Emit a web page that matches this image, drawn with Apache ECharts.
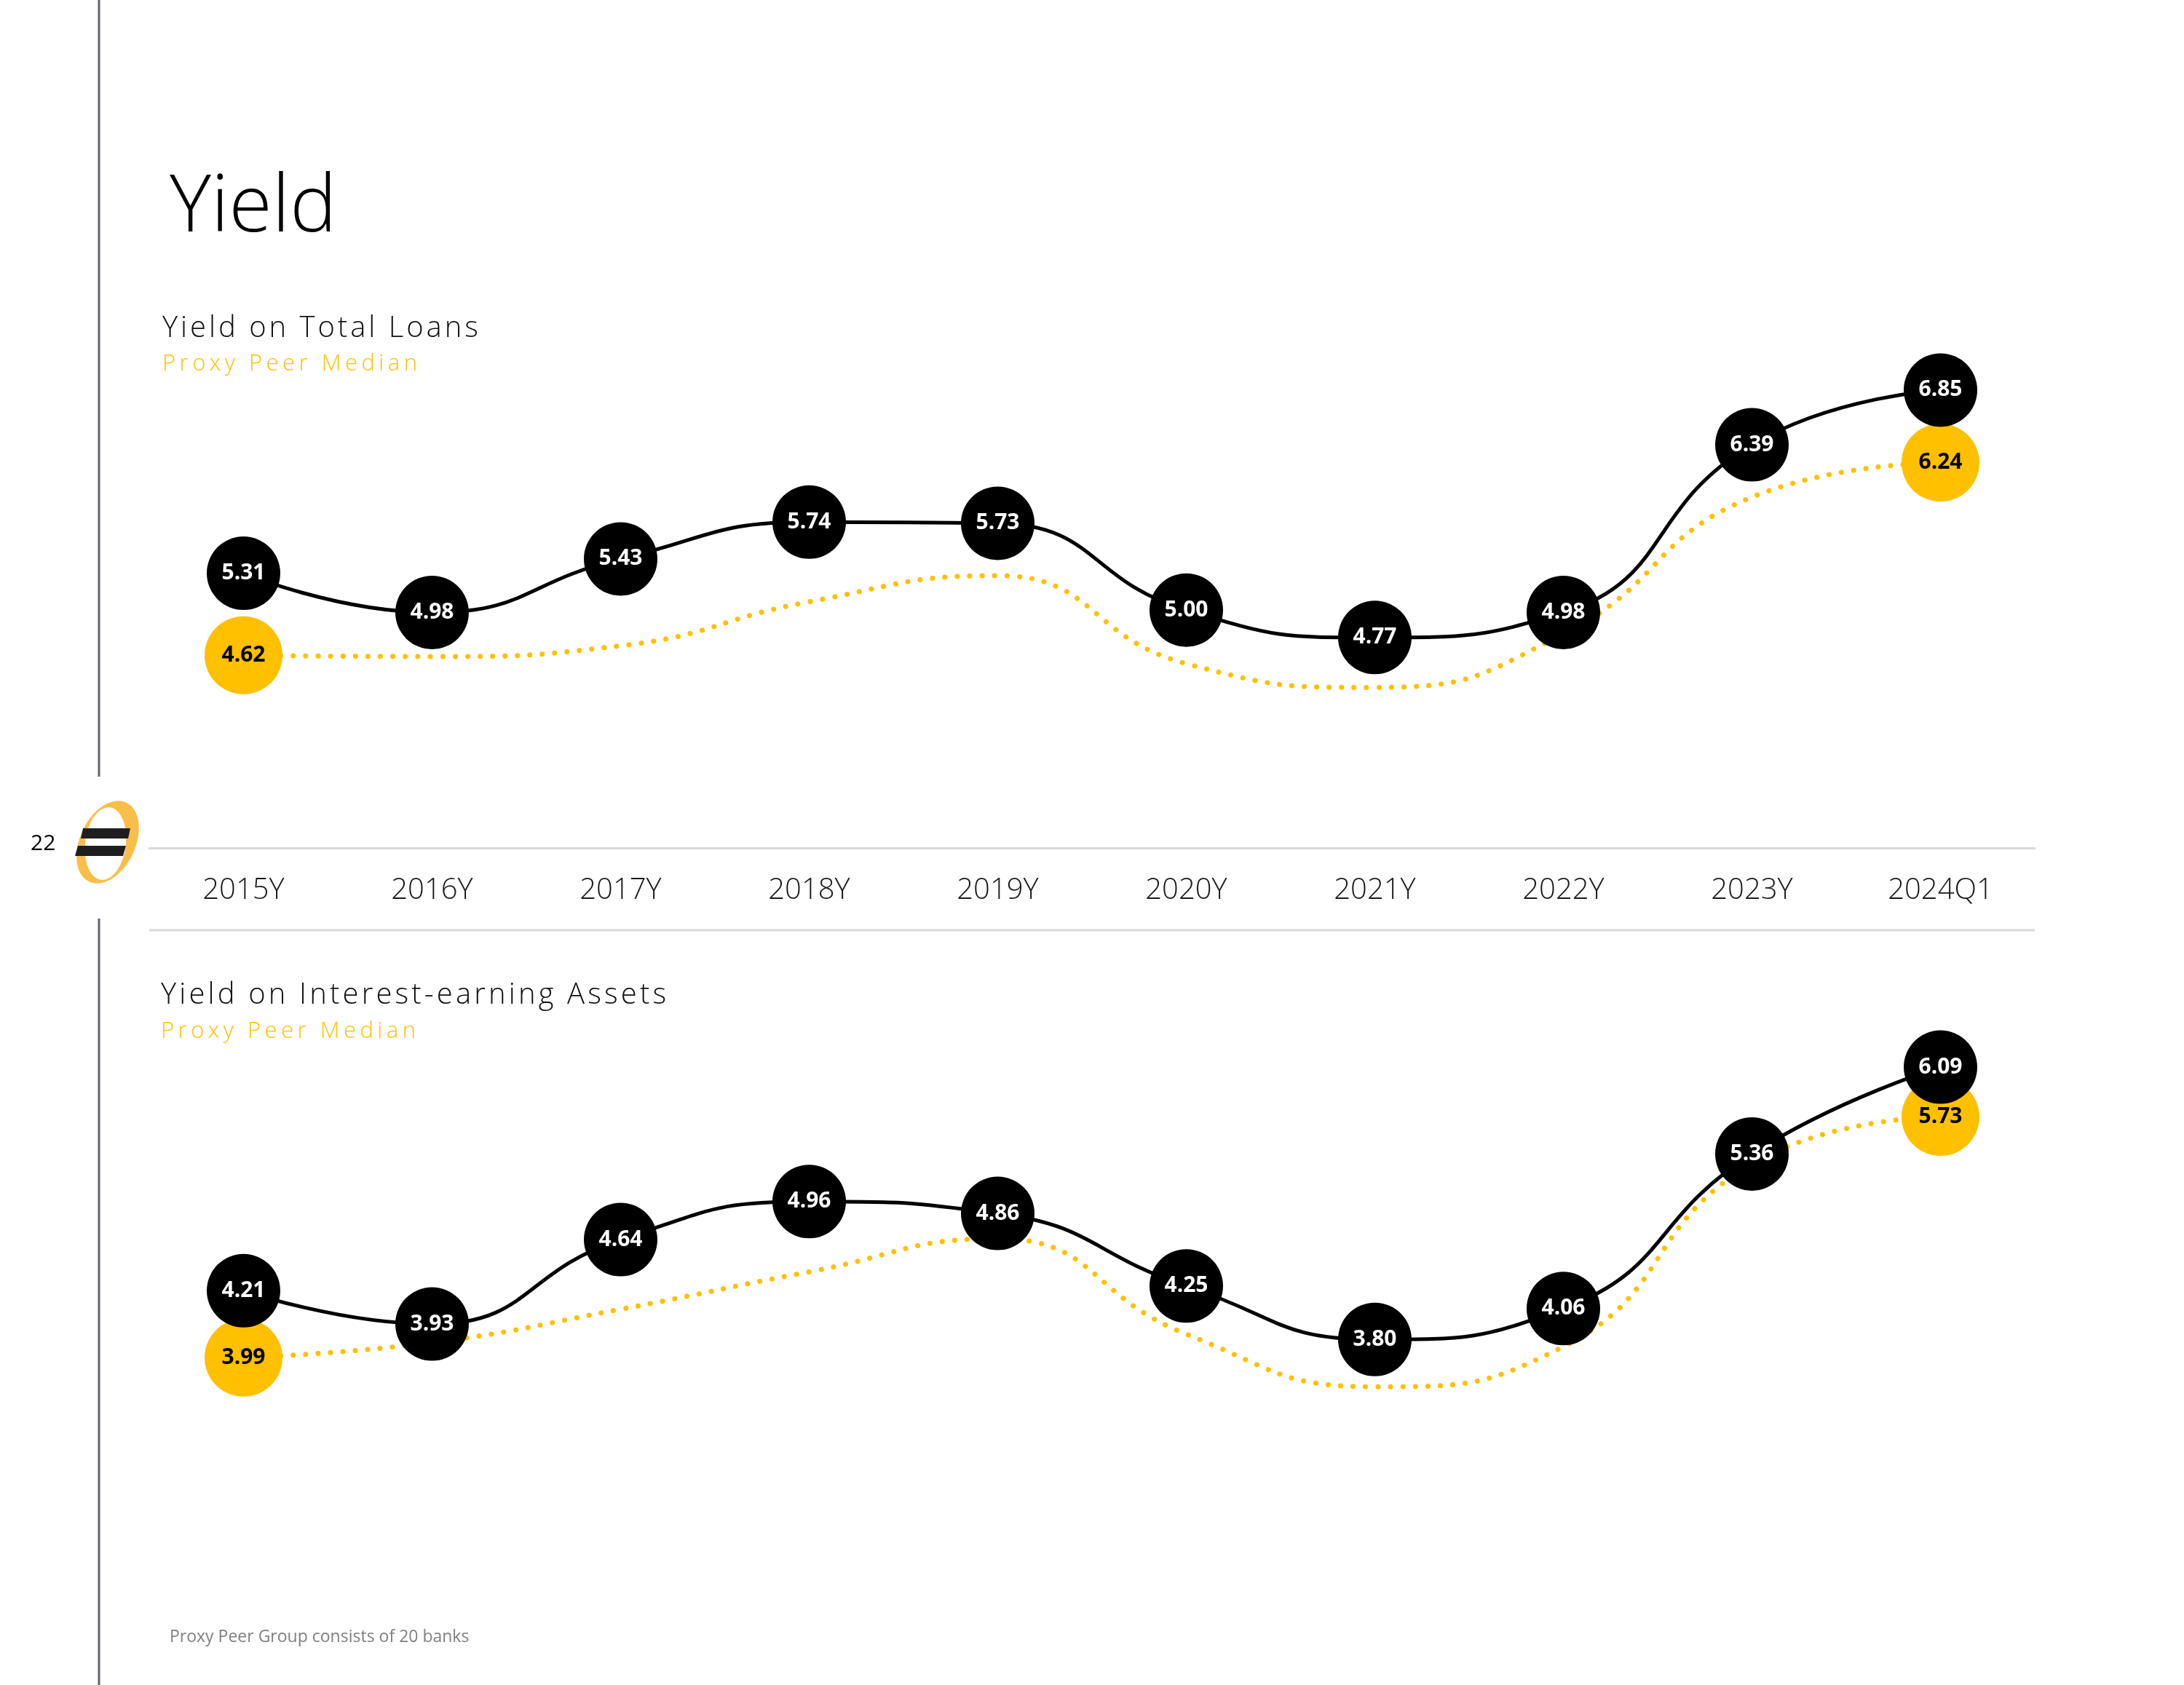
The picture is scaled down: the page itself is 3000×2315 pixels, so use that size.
<!DOCTYPE html>
<html>
<head>
<meta charset="utf-8">
<script src="https://cdn.jsdelivr.net/npm/echarts@6/dist/echarts.min.js"></script>
<style>
html,body{margin:0;padding:0;background:#fff;}
#chart{width:3000px;height:2315px;}
</style>
</head>
<body>
<div id="chart"></div>
<script>
// ---------------- data ----------------
const categories = ['2015Y','2016Y','2017Y','2018Y','2019Y','2020Y','2021Y','2022Y','2023Y','2024Q1'];
const loanYield  = [5.31, 4.98, 5.43, 5.74, 5.73, 5.00, 4.77, 4.98, 6.39, 6.85];
const loanPeer   = [4.62, 4.61, 4.70, 5.07, 5.29, 4.55, 4.35, 4.80, 5.95, 6.24];
const assetYield = [4.21, 3.93, 4.64, 4.96, 4.86, 4.25, 3.80, 4.06, 5.36, 6.09];
const assetPeer  = [3.99, 4.10, 4.34, 4.61, 4.85, 4.16, 3.78, 4.07, 5.39, 5.73];

const pageTitle = 'Yield';
const chart1Title = 'Yield on Total Loans';
const chart2Title = 'Yield on Interest-earning Assets';
const peerLabel = 'Proxy Peer Median';
const footnote = 'Proxy Peer Group consists of 20 banks';
const pageNumber = '22';

// ---------------- styles ----------------
const GOLD = '#FFC000';
const FONT = "'Open Sans', 'Noto Sans', sans-serif";

// letter-spaced titles (target rendered widths in px)
const SPACED = {};
SPACED[chart1Title] = 434;
SPACED[chart2Title] = 694;
SPACED[peerLabel] = 350;
(function(){
  const proto = CanvasRenderingContext2D.prototype;
  const orig = proto.fillText;
  proto.fillText = function(t, x, y, mw){
    const target = SPACED[t];
    if (target && ('letterSpacing' in this) && t.length > 1) {
      this.save();
      const f = this.font;
      this.letterSpacing = '0px';
      this.font = f;
      const w = this.measureText(t).width;
      const ls = Math.max(0, (target - w) / (t.length - 1));
      this.letterSpacing = ls.toFixed(2) + 'px';
      this.font = f;
      orig.call(this, t, x, y);
      this.restore();
      this.letterSpacing = '0px';
      this.font = f;
      return;
    }
    if ('letterSpacing' in this && this.letterSpacing !== '0px') {
      const f = this.font;
      this.letterSpacing = '0px';
      this.font = f;
    }
    return orig.apply(this, arguments);
  };
})();

const lastIdx = categories.length - 1;
const isEnd = i => i === 0 || i === lastIdx;

function mainSeries(data, xi, yi) {
  return {
    type: 'line', xAxisIndex: xi, yAxisIndex: yi, data: data,
    smooth: true, z: 4, silent: true,
    symbol: 'circle', symbolSize: 101, showAllSymbol: true,
    lineStyle: { color: '#000', width: 5 },
    itemStyle: { color: '#000' },
    label: {
      show: true, position: 'inside', color: '#fff',
      fontFamily: FONT, fontWeight: 'bold', fontSize: 30,
      formatter: p => p.value.toFixed(2)
    },
    emphasis: { disabled: true }
  };
}
function peerSeries(data, xi, yi) {
  return {
    type: 'line', xAxisIndex: xi, yAxisIndex: yi, data: data,
    smooth: true, z: 2, silent: true,
    symbol: 'circle', showAllSymbol: true,
    symbolSize: (v, p) => isEnd(p.dataIndex) ? 107 : 0,
    lineStyle: { color: GOLD, width: 7, type: [0.1, 17], cap: 'round' },
    itemStyle: { color: GOLD },
    label: {
      show: true, position: 'inside', color: '#000',
      fontFamily: FONT, fontWeight: 'bold', fontSize: 30,
      formatter: p => isEnd(p.dataIndex) ? p.value.toFixed(2) : ''
    },
    emphasis: { disabled: true }
  };
}

function txt(text, x, y, size, weight, color) {
  return { type: 'text', x: x, y: y, silent: true,
    style: { text: text, fontSize: size, fontFamily: FONT, fontWeight: weight,
             fill: color, align: 'left', verticalAlign: 'middle' } };
}

const option = {
  animation: false,
  backgroundColor: '#fff',
  grid: [
    { left: 205, top: 348, width: 2590, height: 817 },
    { left: 205, top: 1154, width: 2590, height: 817 }
  ],
  xAxis: [
    { type: 'category', gridIndex: 0, data: categories, boundaryGap: true,
      axisLine: { onZero: false, lineStyle: { color: '#d9d9d9', width: 3 } },
      axisTick: { show: false },
      axisLabel: { interval: 0, margin: 39, fontSize: 40, fontFamily: FONT, fontWeight: 300, color: '#1a1a1a' },
      splitLine: { show: false } },
    { type: 'category', gridIndex: 1, data: categories, boundaryGap: true, show: false }
  ],
  yAxis: [
    { type: 'value', gridIndex: 0, min: 3, max: 8, show: false, splitLine: { show: false } },
    { type: 'value', gridIndex: 1, min: 3, max: 8, show: false, splitLine: { show: false } },
    { type: 'value', gridIndex: 1, min: 3.434, max: 7.731, show: false, splitLine: { show: false } }
  ],
  series: [
    peerSeries(loanPeer, 0, 0),
    mainSeries(loanYield, 0, 0),
    peerSeries(assetPeer, 1, 2),
    mainSeries(assetYield, 1, 1)
  ],
  graphic: [
    // left rule
    { type: 'line', silent: true, shape: { x1: 136, y1: 0, x2: 136, y2: 1067 }, style: { stroke: '#5d6370', lineWidth: 3 } },
    { type: 'line', silent: true, shape: { x1: 136, y1: 1262, x2: 136, y2: 2315 }, style: { stroke: '#5d6370', lineWidth: 3 } },
    // lower separator line
    { type: 'line', silent: true, shape: { x1: 205, y1: 1278, x2: 2795, y2: 1278 }, style: { stroke: '#d9d9d9', lineWidth: 3 } },
    // logo
    { type: 'ellipse', silent: true, x: 148, y: 1157, rotation: -0.44,
      shape: { cx: 0, cy: 0, rx: 38, ry: 60 }, style: { fill: '#F9BE4A' } },
    { type: 'ellipse', silent: true, x: 145, y: 1159, rotation: -0.12,
      shape: { cx: 0, cy: 0, rx: 28, ry: 50 }, style: { fill: '#fff' } },
    { type: 'polygon', silent: true, shape: { points: [[114,1138],[179,1138],[176,1152],[111,1152]] }, style: { fill: '#1e1e1e' } },
    { type: 'polygon', silent: true, shape: { points: [[107,1162],[173,1162],[169,1176],[103,1176]] }, style: { fill: '#1e1e1e' } },
    txt(pageNumber, 42, 1159, 30, 'normal', '#000'),
    // titles
    txt(pageTitle, 233, 287, 108, 300, '#000'),
    txt(chart1Title, 223, 452, 40, 300, '#111'),
    txt(peerLabel, 223, 500, 31, 300, GOLD),
    txt(chart2Title, 221, 1368, 40, 300, '#111'),
    txt(peerLabel, 221, 1417, 31, 300, GOLD),
    txt(footnote, 233, 2249, 23, 'normal', '#808080')
  ]
};

const chart = echarts.init(document.getElementById('chart'), null, { renderer: 'canvas' });
chart.setOption(option);
</script>
</body>
</html>
